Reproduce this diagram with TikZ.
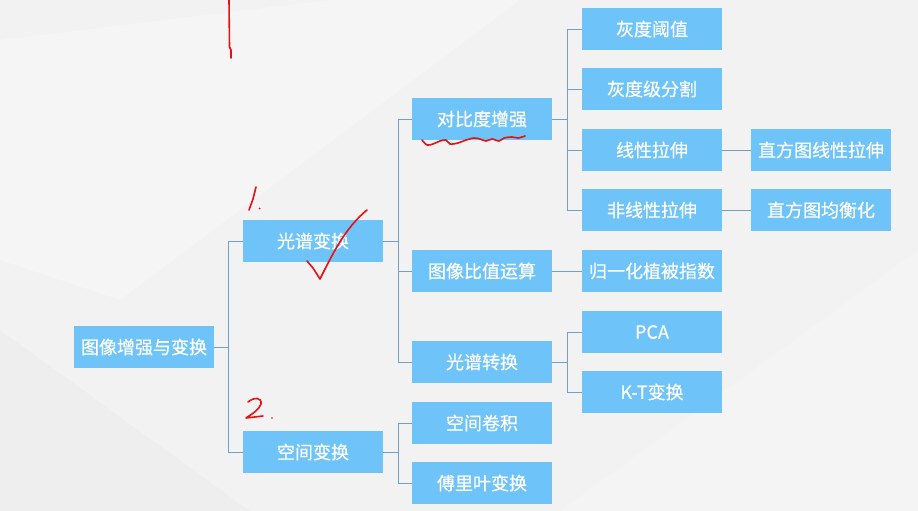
\documentclass[tikz,border=0pt]{standalone}
\usepackage{fontspec}
\newfontfamily\cjkfont[FakeBold=0.5]{Noto Sans CJK SC}
\definecolor{boxblue}{RGB}{110,196,248}
\definecolor{linkblue}{RGB}{112,160,204}
\definecolor{bggray}{RGB}{242,242,243}
\definecolor{pen}{RGB}{232,16,16}
\tikzset{
  leaf/.style={fill=boxblue, text=white, minimum width=140pt, minimum height=42pt,
    inner sep=0pt, font=\cjkfont\fontsize{18}{18}\selectfont},
  link/.style={draw=linkblue, line width=0.8pt},
  ink/.style={draw=pen, line width=1.6pt, line cap=round, line join=round}
}
\begin{document}
\begin{tikzpicture}[x=1pt,y=-1pt]
  % background
  \fill[bggray] (0,0) rectangle (918,511);
  \fill[white,opacity=0.25] (0,40) -- (330,0) -- (520,0) -- (120,300) -- (0,260) -- cycle;
  \fill[white,opacity=0.2] (560,511) -- (918,250) -- (918,511) -- cycle;
  \fill[black,opacity=0.015] (0,330) -- (250,511) -- (0,511) -- cycle;
  \useasboundingbox (0,0) rectangle (918,511);

  % level 1 and 2
  \node[leaf] (root) at (144,347) {图像增强与变换};
  \node[leaf] (spec) at (313,241) {光谱变换};
  \node[leaf] (space) at (313,452) {空间变换};

  % level 3
  \node[leaf] (contrast) at (482,119) {对比度增强};
  \node[leaf] (ratio) at (482,271) {图像比值运算};
  \node[leaf] (trans) at (482,362) {光谱转换};
  \node[leaf] (conv) at (482,423) {空间卷积};
  \node[leaf] (fourier) at (482,483) {傅里叶变换};

  % level 4
  \node[leaf] (thresh) at (652,29) {灰度阈值};
  \node[leaf] (slice) at (652,89) {灰度级分割};
  \node[leaf] (linear) at (652,150) {线性拉伸};
  \node[leaf] (nonlin) at (652,210) {非线性拉伸};
  \node[leaf] (ndvi) at (652,271) {归一化植被指数};
  \node[leaf] (pca) at (652,332) {PCA};
  \node[leaf] (kt) at (652,392) {K-T变换};

  % level 5
  \node[leaf] (histlin) at (821,150) {直方图线性拉伸};
  \node[leaf] (histeq) at (821,210) {直方图均衡化};

  % connectors
  \draw[link] (root.east) -- ++(14,0) |- (spec.west);
  \draw[link] (root.east) -- ++(14,0) |- (space.west);
  \draw[link] (spec.east) -- ++(15,0) |- (contrast.west);
  \draw[link] (spec.east) -- ++(15,0) |- (ratio.west);
  \draw[link] (spec.east) -- ++(15,0) |- (trans.west);
  \draw[link] (space.east) -- ++(15,0) |- (conv.west);
  \draw[link] (space.east) -- ++(15,0) |- (fourier.west);
  \draw[link] (contrast.east) -- ++(15,0) |- (thresh.west);
  \draw[link] (contrast.east) -- ++(15,0) |- (slice.west);
  \draw[link] (contrast.east) -- ++(15,0) |- (linear.west);
  \draw[link] (contrast.east) -- ++(15,0) |- (nonlin.west);
  \draw[link] (ratio.east) -- (ndvi.west);
  \draw[link] (trans.east) -- ++(15,0) |- (pca.west);
  \draw[link] (trans.east) -- ++(15,0) |- (kt.west);
  \draw[link] (linear.east) -- (histlin.west);
  \draw[link] (nonlin.east) -- (histeq.west);

  % red hand marks
  \draw[ink] (229,0) -- (229.5,47) -- (231,50) -- (231,58);
  \draw[ink] (256,187) -- (253,199) -- (249,210);
  \fill[pen] (259.5,208.5) circle (1);
  \draw[ink] (307,261) -- (313,268) -- (320,279) .. controls (332,255) and (345,228) .. (367,210);
  \draw[ink] (248,402) .. controls (254,397) and (262,397) .. (261,404)
    .. controls (259,410) and (252,414) .. (246,418) -- (263,416);
  \fill[pen] (272,418) circle (0.9);
  \draw[ink] plot[smooth] coordinates {(422,140) (427,145) (433,144) (440,141) (446,140)
    (450,144) (458,143) (466,140) (474,138) (480,139) (486,141) (492,139) (499,141)
    (504,138) (512,137) (518,138) (525,136)};
\end{tikzpicture}
\end{document}
